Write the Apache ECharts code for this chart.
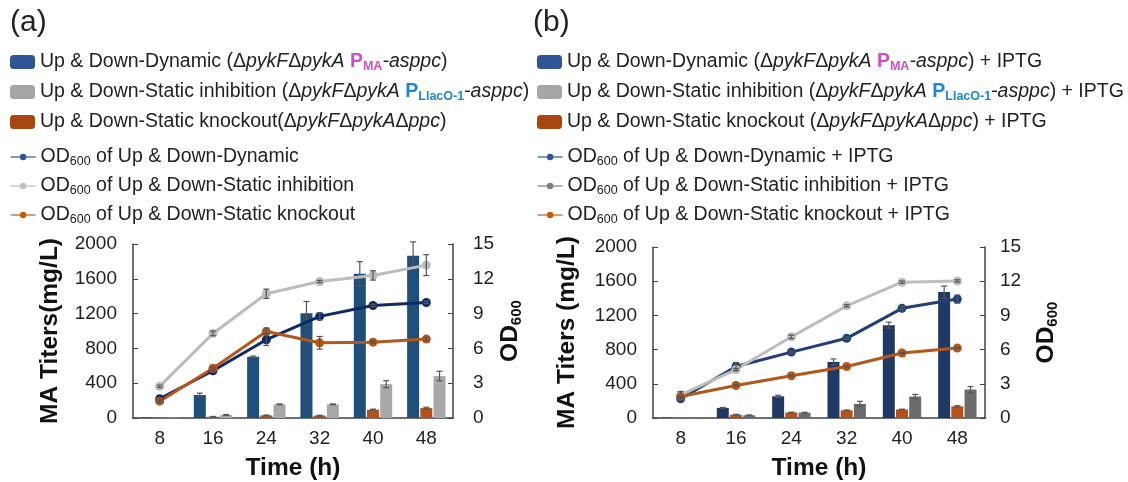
<!DOCTYPE html>
<html>
<head>
<meta charset="utf-8">
<script src="https://cdn.jsdelivr.net/npm/echarts@6/dist/echarts.min.js"></script>
<style>html,body{margin:0;padding:0;background:#fff}#c{width:1128px;height:482px}</style>
</head>
<body>
<div id="c"></div>
<script>
// ---------- data ----------
const times = ['8', '16', '24', '32', '40', '48'];
const titerTicks = [0, 400, 800, 1200, 1600, 2000];
const odTicks = [0, 3, 6, 9, 12, 15];

// panel (a) – no IPTG
const aDynTiter = [8, 264, 704, 1204, 1657, 1864];
const aDynTiterErr = [0, 22, 8, 135, 140, 160];
const aKoTiter = [2, 15, 30, 28, 96, 114];
const aKoTiterErr = [0, 3, 4, 4, 6, 10];
const aInhTiter = [4, 35, 157, 157, 389, 482];
const aInhTiterErr = [0, 5, 5, 5, 40, 55];
const aDynOD = [1.66, 4.07, 6.75, 8.76, 9.70, 9.96];
const aDynODErr = [0.1, 0.1, 0.5, 0.3, 0.1, 0.1];
const aInhOD = [2.73, 7.29, 10.71, 11.76, 12.29, 13.18];
const aInhODErr = [0.1, 0.2, 0.4, 0.1, 0.4, 0.9];
const aKoOD = [1.45, 4.29, 7.45, 6.48, 6.54, 6.80];
const aKoODErr = [0.1, 0.1, 0.3, 0.55, 0.1, 0.15];

// panel (b) – + IPTG
const bDynTiter = [5, 118, 254, 656, 1086, 1473];
const bDynTiterErr = [0, 5, 12, 35, 35, 70];
const bKoTiter = [3, 39, 65, 90, 100, 136];
const bKoTiterErr = [0, 3, 3, 3, 3, 8];
const bInhTiter = [3, 32, 62, 165, 251, 333];
const bInhTiterErr = [0, 4, 5, 30, 25, 35];
const bDynOD = [1.69, 4.52, 5.78, 6.99, 9.62, 10.43];
const bDynODErr = [0.15, 0.35, 0.1, 0.1, 0.15, 0.35];
const bInhOD = [2.02, 4.25, 7.12, 9.84, 11.91, 12.02];
const bInhODErr = [0.3, 0.1, 0.15, 0.1, 0.1, 0.1];
const bKoOD = [1.88, 2.85, 3.71, 4.52, 5.70, 6.13];
const bKoODErr = [0.05, 0.05, 0.05, 0.05, 0.05, 0.05];

// legend names
const nA = [
  'Up & Down-Dynamic (ΔpykFΔpykA PMA-asppc)',
  'Up & Down-Static inhibition (ΔpykFΔpykA PLlacO-1-asppc)',
  'Up & Down-Static knockout(ΔpykFΔpykAΔppc)',
  'OD600 of Up & Down-Dynamic',
  'OD600 of Up & Down-Static inhibition',
  'OD600 of Up & Down-Static knockout'
];
const nB = [
  'Up & Down-Dynamic (ΔpykFΔpykA PMA-asppc) + IPTG',
  'Up & Down-Static inhibition (ΔpykFΔpykA PLlacO-1-asppc) + IPTG',
  'Up & Down-Static knockout (ΔpykFΔpykAΔppc) + IPTG',
  'OD600 of Up & Down-Dynamic + IPTG',
  'OD600 of Up & Down-Static inhibition + IPTG',
  'OD600 of Up & Down-Static knockout + IPTG'
];
const richNames = {};
richNames[nA[0]] = 'Up & Down-Dynamic (Δ{i|pykF}Δ{i|pykA} {pm|P}{pmsub|MA}{i|-asppc})';
richNames[nA[1]] = 'Up & Down-Static inhibition (Δ{i|pykF}Δ{i|pykA} {pl|P}{plsub|LlacO-1}{i|-asppc})';
richNames[nA[2]] = 'Up & Down-Static knockout(Δ{i|pykF}Δ{i|pykA}Δ{i|ppc})';
richNames[nA[3]] = 'OD{sub|600} of Up & Down-Dynamic';
richNames[nA[4]] = 'OD{sub|600} of Up & Down-Static inhibition';
richNames[nA[5]] = 'OD{sub|600} of Up & Down-Static knockout';
richNames[nB[0]] = 'Up & Down-Dynamic (Δ{i|pykF}Δ{i|pykA} {pm|P}{pmsub|MA}{i|-asppc}) + IPTG';
richNames[nB[1]] = 'Up & Down-Static inhibition (Δ{i|pykF}Δ{i|pykA} {pl|P}{plsub|LlacO-1}{i|-asppc}) + IPTG';
richNames[nB[2]] = 'Up & Down-Static knockout (Δ{i|pykF}Δ{i|pykA}Δ{i|ppc}) + IPTG';
richNames[nB[3]] = 'OD{sub|600} of Up & Down-Dynamic + IPTG';
richNames[nB[4]] = 'OD{sub|600} of Up & Down-Static inhibition + IPTG';
richNames[nB[5]] = 'OD{sub|600} of Up & Down-Static knockout + IPTG';

// ---------- styling ----------
const FONT = 'Liberation Sans, Arial, sans-serif';
const TXT = '#222';
const LF = 19.5, LSUB = 12.5;
const C = {
  aBlueBar: '#1f4e79', aBrownBar: '#b5521a', aGrayBar: '#a8a8a8',
  aBlueLine: '#0d2a6a', aGrayLine: '#bcbcbc', aBrownLine: '#b5561a',
  bBlueBar: '#1f3864', bBrownBar: '#b5521a', bGrayBar: '#6b6b6b',
  bBlueLine: '#213f7a', bGrayLine: '#bdbdbd', bBrownLine: '#b5561a',
  legBlue: '#2f5597', legGray: '#a6a6a6', legBrown: '#a5470f'
};
const rich = {
  i: {fontStyle: 'italic', fontSize: LF, lineHeight: 22, color: TXT, fontFamily: FONT},
  pm: {fontWeight: 'bold', fontSize: LF, lineHeight: 22, color: '#cc4fc5', fontFamily: FONT},
  pmsub: {fontWeight: 'bold', fontSize: LSUB, lineHeight: 10, verticalAlign: 'bottom', color: '#cc4fc5', fontFamily: FONT},
  pl: {fontWeight: 'bold', fontSize: LF, lineHeight: 22, color: '#1f86d6', fontFamily: FONT},
  plsub: {fontWeight: 'bold', fontSize: LSUB, lineHeight: 10, verticalAlign: 'bottom', color: '#1f86d6', fontFamily: FONT},
  sub: {fontSize: LSUB, lineHeight: 10, verticalAlign: 'bottom', color: TXT, fontFamily: FONT}
};

const BW = 12, GAP = 0.1;
function barOffset(i) { const step = BW * (1 + GAP); return (i - 1) * step; }

function errSeries(vals, errs, xIdx, yIdx, offset, z) {
  return {
    type: 'custom', xAxisIndex: xIdx, yAxisIndex: yIdx, z: z, silent: true,
    data: vals.map((v, k) => [k, v, errs[k]]),
    encode: {x: 0, y: 1},
    renderItem: function (params, api) {
      const x = api.value(0), v = api.value(1), e = api.value(2);
      if (!e) return null;
      const hi = api.coord([x, v + e]), lo = api.coord([x, v - e]);
      const cx = hi[0] + offset, cap = 3;
      const st = {stroke: '#555', lineWidth: 1.2};
      return {type: 'group', children: [
        {type: 'line', shape: {x1: cx, y1: hi[1], x2: cx, y2: lo[1]}, style: st},
        {type: 'line', shape: {x1: cx - cap, y1: hi[1], x2: cx + cap, y2: hi[1]}, style: st},
        {type: 'line', shape: {x1: cx - cap, y1: lo[1], x2: cx + cap, y2: lo[1]}, style: st}
      ]};
    }
  };
}
function bar(name, data, color, xIdx, yIdx) {
  return {name: name, type: 'bar', xAxisIndex: xIdx, yAxisIndex: yIdx, data: data,
    barWidth: BW, barGap: (GAP * 100) + '%', itemStyle: {color: color}, z: 2};
}
function line(name, data, color, xIdx, yIdx) {
  return {name: name, type: 'line', xAxisIndex: xIdx, yAxisIndex: yIdx, data: data,
    symbol: 'circle', symbolSize: 9, lineStyle: {color: color, width: 3},
    itemStyle: {color: color}, z: 5};
}
function legendBlock(left, top, names, colors, isLine) {
  return {
    orient: 'vertical', left: left, top: top, padding: 0,
    itemWidth: 25, itemHeight: isLine ? 8 : 14, itemGap: isLine ? 7 : 8,
    selectedMode: false,
    data: names.map((n, k) => isLine
      ? {name: n, itemStyle: {color: colors[k]}, lineStyle: {color: colors[k], width: 1.2}}
      : {name: n, itemStyle: {color: colors[k]}}),
    formatter: function (name) { return richNames[name]; },
    textStyle: {fontSize: LF, lineHeight: 22, color: TXT, fontFamily: FONT, rich: rich}
  };
}
const nameStyle = {fontSize: 24.5, fontWeight: 'bold', color: '#111', fontFamily: FONT};
function yLeft(gridIdx, nameGap) {
  return {type: 'value', gridIndex: gridIdx, min: titerTicks[0], max: titerTicks[titerTicks.length - 1],
    interval: titerTicks[1] - titerTicks[0],
    name: 'MA Titers' + (gridIdx === 0 ? '(mg/L)' : ' (mg/L)'), nameLocation: 'middle', nameGap: nameGap,
    nameTextStyle: nameStyle,
    axisLine: {show: true, lineStyle: {color: '#404040', width: 1.5}},
    axisTick: {show: true, inside: true, length: 5, lineStyle: {color: '#404040'}},
    axisLabel: {fontSize: 19, color: TXT, margin: 16, fontFamily: FONT, formatter: v => String(v)},
    splitLine: {show: false}};
}
function yRight(gridIdx, nameGap, margin) {
  return {type: 'value', gridIndex: gridIdx, position: 'right', min: odTicks[0], max: odTicks[odTicks.length - 1],
    interval: odTicks[1] - odTicks[0],
    name: '{od|OD}{odsub|600}', nameLocation: 'middle', nameGap: nameGap, nameRotate: 90,
    nameTextStyle: {fontSize: 24.5, fontWeight: 'bold', color: '#111', fontFamily: FONT,
      rich: {od: {fontSize: 24.5, fontWeight: 'bold', lineHeight: 27, color: '#111', fontFamily: FONT},
             odsub: {fontSize: 15, fontWeight: 'bold', lineHeight: 12, verticalAlign: 'bottom', color: '#111', fontFamily: FONT}}},
    axisLine: {show: true, lineStyle: {color: '#404040', width: 1.5}},
    axisTick: {show: true, inside: true, length: 5, lineStyle: {color: '#404040'}},
    axisLabel: {fontSize: 19, color: TXT, margin: margin, fontFamily: FONT},
    splitLine: {show: false}};
}
function xAx(gridIdx) {
  return {type: 'category', gridIndex: gridIdx, data: times, boundaryGap: true,
    name: 'Time (h)', nameLocation: 'middle', nameGap: 38,
    nameTextStyle: nameStyle,
    axisLine: {lineStyle: {color: '#404040', width: 1.5}},
    axisTick: {show: false},
    axisLabel: {fontSize: 19, color: TXT, margin: 11, fontFamily: FONT}};
}

const option = {
  animation: false,
  backgroundColor: '#fff',
  textStyle: {fontFamily: FONT},
  title: [
    {text: '(a)', left: 5, top: 3, textStyle: {fontSize: 30, fontWeight: 'normal', color: TXT, fontFamily: FONT}},
    {text: '(b)', left: 528, top: 3, textStyle: {fontSize: 30, fontWeight: 'normal', color: TXT, fontFamily: FONT}}
  ],
  legend: [
    legendBlock(10, 51, nA.slice(0, 3), [C.legBlue, C.legGray, C.legBrown], false),
    legendBlock(10, 146, nA.slice(3), [C.legBlue, '#bfbfbf', '#c55a11'], true),
    legendBlock(537, 51, nB.slice(0, 3), [C.legBlue, C.legGray, C.legBrown], false),
    legendBlock(537, 146, nB.slice(3), [C.legBlue, '#7f7f7f', '#c55a11'], true)
  ],
  grid: [
    {left: 133, right: 675, top: 244, bottom: 51},
    {left: 653, right: 143, top: 247, bottom: 49}
  ],
  xAxis: [xAx(0), xAx(1)],
  yAxis: [yLeft(0, 70), yRight(0, 44, 20), yLeft(1, 73), yRight(1, 48, 15)],
  series: [
    bar(nA[0], aDynTiter, C.aBlueBar, 0, 0),
    bar(nA[2], aKoTiter, C.aBrownBar, 0, 0),
    bar(nA[1], aInhTiter, C.aGrayBar, 0, 0),
    errSeries(aDynTiter, aDynTiterErr, 0, 0, barOffset(0), 3),
    errSeries(aKoTiter, aKoTiterErr, 0, 0, barOffset(1), 3),
    errSeries(aInhTiter, aInhTiterErr, 0, 0, barOffset(2), 3),
    line(nA[3], aDynOD, C.aBlueLine, 0, 1),
    line(nA[4], aInhOD, C.aGrayLine, 0, 1),
    line(nA[5], aKoOD, C.aBrownLine, 0, 1),
    errSeries(aDynOD, aDynODErr, 0, 1, 0, 6),
    errSeries(aInhOD, aInhODErr, 0, 1, 0, 6),
    errSeries(aKoOD, aKoODErr, 0, 1, 0, 6),

    bar(nB[0], bDynTiter, C.bBlueBar, 1, 2),
    bar(nB[2], bKoTiter, C.bBrownBar, 1, 2),
    bar(nB[1], bInhTiter, C.bGrayBar, 1, 2),
    errSeries(bDynTiter, bDynTiterErr, 1, 2, barOffset(0), 3),
    errSeries(bKoTiter, bKoTiterErr, 1, 2, barOffset(1), 3),
    errSeries(bInhTiter, bInhTiterErr, 1, 2, barOffset(2), 3),
    line(nB[3], bDynOD, C.bBlueLine, 1, 3),
    line(nB[4], bInhOD, C.bGrayLine, 1, 3),
    line(nB[5], bKoOD, C.bBrownLine, 1, 3),
    errSeries(bDynOD, bDynODErr, 1, 3, 0, 6),
    errSeries(bInhOD, bInhODErr, 1, 3, 0, 6),
    errSeries(bKoOD, bKoODErr, 1, 3, 0, 6)
  ]
};
const chart = echarts.init(document.getElementById('c'), null, {renderer: 'canvas'});
chart.setOption(option);
</script>
</body>
</html>
